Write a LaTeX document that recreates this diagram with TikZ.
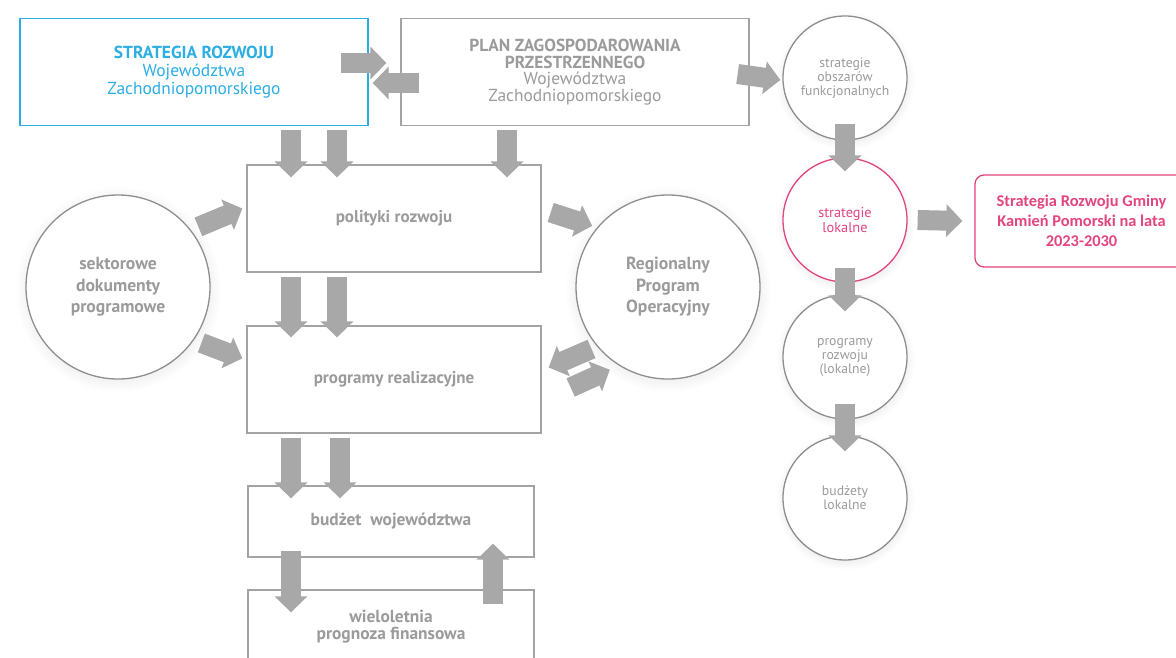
\documentclass[tikz,border=0pt]{standalone}
\usepackage{fontspec}
\setmainfont{PT Sans}
\newfontfamily\calibri{Carlito}
\usetikzlibrary{arrows.meta,shadows}

\definecolor{txtgray}{HTML}{9B9B9B}
\definecolor{linegray}{HTML}{A3A3A3}
\definecolor{ringgray}{HTML}{8E8E8E}
\definecolor{arrgray}{HTML}{A8A8A8}
\definecolor{szblue}{HTML}{2BAEE4}
\definecolor{lokpink}{HTML}{E2457F}

\tikzset{
  box/.style={draw=linegray, line width=1.3pt, fill=white, text=txtgray, align=center, inner sep=0pt},
  ring/.style={circle, draw=ringgray, line width=1.3pt, fill=white, text=txtgray, align=center, inner sep=0pt,
    circular drop shadow={shadow scale=1.12, shadow xshift=0pt, shadow yshift=-2pt, opacity=0.12}},
  blk/.style={arrgray, line width=20pt, -{Triangle[width=32pt,length=16pt]}},
}

\begin{document}
\begin{tikzpicture}[x=1pt,y=-1pt]
  \useasboundingbox (0,0) rectangle (1176,658);

  % gorny rzad
  \node[box, draw=szblue, text=szblue, minimum width=348pt, minimum height=107pt,
        font=\fontsize{17.4}{18}\selectfont] (sr) at (194,72)
        {\textbf{\fontsize{17.4}{18}\selectfont STRATEGIA ROZWOJU}\\Województwa\\Zachodniopomorskiego};
  \node[box, minimum width=348pt, minimum height=107pt,
        font=\fontsize{17.4}{16.5}\selectfont] (pzp) at (575,72)
        {\textbf{\fontsize{17.4}{16.5}\selectfont PLAN ZAGOSPODAROWANIA}\\\textbf{\fontsize{17.4}{16.5}\selectfont PRZESTRZENNEGO}\\Województwa\\Zachodniopomorskiego};

  % srodkowa kolumna
  \node[box, minimum width=294pt, minimum height=107pt, font=\bfseries\fontsize{17}{18}\selectfont] (pol) at (394,218.5) {polityki rozwoju};
  \node[box, minimum width=294pt, minimum height=107pt, font=\bfseries\fontsize{17}{18}\selectfont] (prog) at (394,379.5) {programy realizacyjne};
  \node[box, minimum width=286pt, minimum height=71pt, font=\bfseries\fontsize{17.4}{18}\selectfont] (bud) at (391,521.5) {budżet\ \ województwa};
  \node[box, minimum width=286pt, minimum height=74pt, font=\bfseries\fontsize{17.4}{17}\selectfont] (wpf) at (391,627) {wieloletnia\\prognoza finansowa};

  % duze kola
  \node[ring, minimum size=184pt, font=\bfseries\fontsize{17.6}{21.5}\selectfont] (sek) at (118,287) {sektorowe\\dokumenty\\programowe};
  \node[ring, minimum size=184pt, font=\bfseries\fontsize{17.6}{21.5}\selectfont] (rpo) at (668,287) {Regionalny\\Program\\Operacyjny};

  % prawa kolumna
  \node[ring, minimum size=124pt, font=\fontsize{13.7}{14}\selectfont] (obs) at (845,78) {strategie\\obszarów\\funkcjonalnych};
  \node[ring, draw=lokpink, text=lokpink, minimum size=124pt, font=\fontsize{14.3}{14.5}\selectfont] (lok) at (845,220) {strategie\\lokalne};
  \node[ring, minimum size=124pt, font=\fontsize{13.7}{14}\selectfont] (prl) at (845,357) {programy\\rozwoju\\(lokalne)};
  \node[ring, minimum size=124pt, font=\fontsize{13.7}{14}\selectfont] (bdl) at (845,498) {budżety\\lokalne};

  \node[box, draw=lokpink, text=lokpink, rounded corners=9pt, minimum width=213pt, minimum height=92pt,
        font=\calibri\bfseries\fontsize{16.4}{20}\selectfont] (gm) at (1081.5,221)
        {Strategia Rozwoju Gminy\\Kamień Pomorski na lata\\2023-2030};

  % strzalki gorne
  \draw[blk] ([xshift=-28pt,yshift=9pt]sr.east) -- ([xshift=-14pt,yshift=9pt]pzp.west);
  \draw[blk] ([xshift=19pt,yshift=-11pt]pzp.west) -- ([xshift=4pt,yshift=-11pt]sr.east);
  \draw[blk] ([xshift=-12pt,yshift=-2pt]pzp.east) -- ([xshift=-2pt,yshift=-2pt]obs.west);

  % strzalki w dol
  \draw[blk] ([xshift=97pt,yshift=-4pt]sr.south) -- ([xshift=-103pt,yshift=-13pt]pol.north);
  \draw[blk] ([xshift=143pt,yshift=-4pt]sr.south) -- ([xshift=-57pt,yshift=-13pt]pol.north);
  \draw[blk] ([xshift=-68pt,yshift=-4pt]pzp.south) -- ([xshift=113pt,yshift=-13pt]pol.north);
  \draw[blk] ([xshift=-103pt,yshift=-4pt]pol.south) -- ([xshift=-103pt,yshift=-12pt]prog.north);
  \draw[blk] ([xshift=-57pt,yshift=-4pt]pol.south) -- ([xshift=-57pt,yshift=-12pt]prog.north);
  \draw[blk] ([xshift=-103pt,yshift=-4pt]prog.south) -- ([xshift=-100pt,yshift=-13pt]bud.north);
  \draw[blk] ([xshift=-54pt,yshift=-4pt]prog.south) -- ([xshift=-51pt,yshift=-13pt]bud.north);
  \draw[blk] ([xshift=-100pt,yshift=7pt]bud.south) -- ([xshift=-100pt,yshift=-23pt]wpf.north);
  \draw[blk] ([xshift=102pt,yshift=-15pt]wpf.north) -- ([xshift=102pt,yshift=14pt]bud.south);

  % strzalki ukosne
  \draw[blk, shorten <=8pt] (sek.38) -- ([xshift=-4pt,yshift=10pt]pol.west);
  \draw[blk, shorten <=8pt] (sek.-35) -- ([xshift=-4pt,yshift=21pt]prog.west);
  \draw[blk, shorten >=5pt] ([xshift=9pt,yshift=6pt]pol.east) -- (rpo.140);
  \draw[blk, shorten <=6pt] (rpo.220) -- ([xshift=7pt,yshift=12pt]prog.east);
  \draw[blk, shorten >=10pt] ([xshift=29pt,yshift=-8pt]prog.east) -- (rpo.238);

  % prawa kolumna
  \draw[blk] ([yshift=17pt]obs.south) -- ([yshift=-14pt]lok.north);
  \draw[blk] ([yshift=15pt]lok.south) -- ([yshift=-17pt]prl.north);
  \draw[blk] ([yshift=16pt]prl.south) -- ([yshift=-16pt]bdl.north);
  \draw[blk] ([xshift=10pt]lok.east) -- ([xshift=-12pt]gm.west);
\end{tikzpicture}
\end{document}
